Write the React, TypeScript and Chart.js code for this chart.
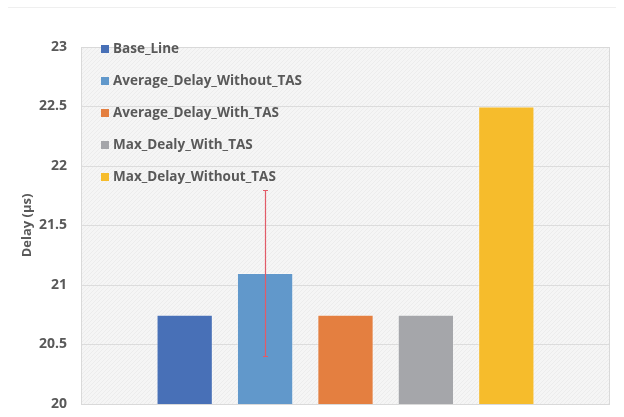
import React, { useEffect, useRef } from "react";
import { Chart, registerables } from "chart.js";

Chart.register(...registerables);

const categories = [""];
const seriesNames = [
  "Base_Line",
  "Average_Delay_Without_TAS",
  "Average_Delay_With_TAS",
  "Max_Dealy_With_TAS",
  "Max_Delay_Without_TAS",
];
const seriesValues = [20.75, 21.1, 20.75, 20.75, 22.5];
const errorLow = [null, 20.4, null, null, null];
const errorHigh = [null, 21.8, null, null, null];
const seriesColors = ["#4870B7", "#6198CB", "#E47F40", "#A5A6AA", "#F6BC2C"];
const yMin = 20;
const yMax = 23;
const yStep = 0.5;

const FONT = "'Open Sans', 'Noto Sans', sans-serif";
const TEXT = "#595959";

export default function App() {
  const ref = useRef<HTMLCanvasElement | null>(null);

  useEffect(() => {
    document.body.style.margin = "0";
    const canvas = ref.current!;

    const pc = document.createElement("canvas");
    pc.width = 4;
    pc.height = 4;
    const pctx = pc.getContext("2d")!;
    pctx.fillStyle = "#f5f5f5";
    pctx.fillRect(0, 0, 4, 4);
    pctx.strokeStyle = "#ececec";
    pctx.lineWidth = 1;
    pctx.beginPath();
    pctx.moveTo(0, 4);
    pctx.lineTo(4, 0);
    pctx.stroke();

    const bgPlugin = {
      id: "bgPlugin",
      beforeDraw(chart: any) {
        const { ctx, chartArea } = chart;
        const pat = ctx.createPattern(pc, "repeat");
        ctx.save();
        ctx.fillStyle = pat || "#f3f3f3";
        ctx.fillRect(chartArea.left, chartArea.top, chartArea.right - chartArea.left, chartArea.bottom - chartArea.top);
        ctx.restore();
      },
      afterDraw(chart: any) {
        const { ctx, chartArea } = chart;
        ctx.save();
        ctx.strokeStyle = "#d9d9d9";
        ctx.lineWidth = 1;
        ctx.strokeRect(chartArea.left + 0.5, chartArea.top + 0.5, chartArea.right - chartArea.left - 1, chartArea.bottom - chartArea.top);
        ctx.restore();
        // legend
        ctx.save();
        ctx.font = `bold 13.5px ${FONT}`;
        ctx.textBaseline = "middle";
        ctx.textAlign = "left";
        chart.data.datasets.forEach((ds: any, i: number) => {
          const y = chartArea.top + 2 + i * 32;
          ctx.fillStyle = ds.backgroundColor;
          ctx.fillRect(chartArea.left + 20, y - 4, 8, 8);
          ctx.fillStyle = TEXT;
          ctx.fillText(ds.label, chartArea.left + 32, y);
        });
        ctx.restore();
      },
    };

    const errPlugin = {
      id: "errPlugin",
      afterDatasetsDraw(chart: any) {
        const { ctx } = chart;
        const yScale = chart.scales.y;
        ctx.save();
        ctx.strokeStyle = "#E25B68";
        ctx.lineWidth = 1.2;
        chart.data.datasets.forEach((_ds: any, i: number) => {
          const lo = errorLow[i];
          const hi = errorHigh[i];
          if (lo == null || hi == null) return;
          const bar = chart.getDatasetMeta(i).data[0];
          const x = Math.round(bar.x) + 0.5;
          const y1 = Math.round(yScale.getPixelForValue(lo)) + 0.5;
          const y2 = Math.round(yScale.getPixelForValue(hi)) + 0.5;
          ctx.beginPath();
          ctx.moveTo(x, y1);
          ctx.lineTo(x, y2);
          ctx.moveTo(x - 2.5, y1);
          ctx.lineTo(x + 2.5, y1);
          ctx.moveTo(x - 2.5, y2);
          ctx.lineTo(x + 2.5, y2);
          ctx.stroke();
        });
        ctx.restore();
      },
    };

    const chart = new Chart(canvas, {
      type: "bar",
      data: {
        labels: categories,
        datasets: seriesNames.map((name, i) => ({
          label: name,
          data: [seriesValues[i]],
          backgroundColor: seriesColors[i],
          borderColor: "rgba(255,255,255,0.35)",
          borderWidth: 1,
          categoryPercentage: 0.76,
          barPercentage: 0.7,
        })),
      },
      options: {
        animation: false,
        responsive: false,
        devicePixelRatio: 1,
        layout: { padding: { left: 0, top: 47, right: 14, bottom: 13 } },
        plugins: {
          legend: { display: false },
          tooltip: { enabled: false },
        },
        scales: {
          x: { display: false },
          y: {
            min: yMin,
            max: yMax,
            ticks: {
              stepSize: yStep,
              padding: 0,
              color: TEXT,
              font: { family: FONT, size: 14, weight: "bold" },
              callback: (v: any) => String(v),
            },
            grid: { color: "#dcdcdc", drawTicks: true, tickLength: 14, tickColor: "rgba(0,0,0,0)" },
            border: { display: false },
            title: {
              display: true,
              text: "Delay (µs)",
              color: TEXT,
              font: { family: FONT, size: 13, weight: "bold" },
              padding: { top: 19, bottom: 0 },
            },
            afterFit: (s: any) => {
              s.width = 81;
            },
          },
        },
      },
      plugins: [bgPlugin, errPlugin],
    });
    return () => chart.destroy();
  }, []);

  return (
    <div style={{ position: "relative", width: 624, height: 417, background: "#fff" }}>
      <div style={{ position: "absolute", left: 8, right: 8, top: 7, height: 1, background: "#efefef" }} />
      <canvas ref={ref} width={624} height={417} style={{ display: "block" }} />
    </div>
  );
}
